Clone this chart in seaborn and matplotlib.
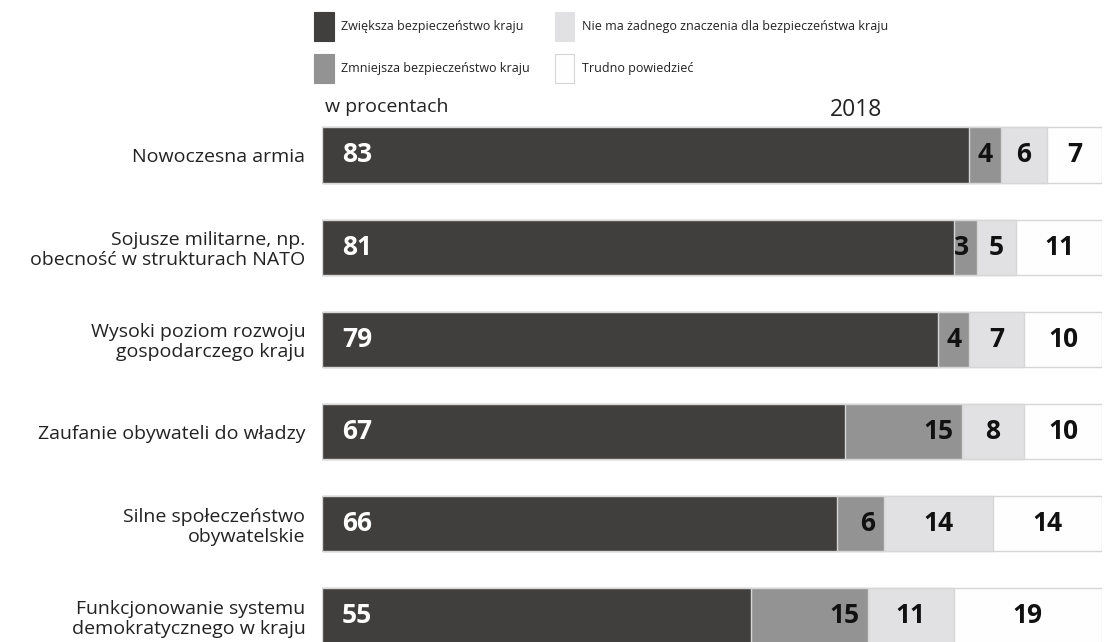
import matplotlib
matplotlib.use("Agg")
import matplotlib.pyplot as plt
import seaborn as sns
import pandas as pd
import numpy as np
from matplotlib.patches import Patch

categories = [
    "Nowoczesna armia",
    "Sojusze militarne, np.\nobecność w strukturach NATO",
    "Wysoki poziom rozwoju\ngospodarczego kraju",
    "Zaufanie obywateli do władzy",
    "Silne społeczeństwo\nobywatelskie",
    "Funkcjonowanie systemu\ndemokratycznego w kraju",
]
zwieksza = [83, 81, 79, 67, 66, 55]
zmniejsza = [4, 3, 4, 15, 6, 15]
bez_znaczenia = [6, 5, 7, 8, 14, 11]
trudno = [7, 11, 10, 10, 14, 19]

series_names = [
    "Zwiększa bezpieczeństwo kraju",
    "Zmniejsza bezpieczeństwo kraju",
    "Nie ma żadnego znaczenia dla bezpieczeństwa kraju",
    "Trudno powiedzieć",
]
series = [zwieksza, zmniejsza, bez_znaczenia, trudno]
colors = ["#413f3d", "#939393", "#e1e0e2", "#fefefe"]
edge = "#d6d6d6"

sns.set_theme(style="white")
plt.rcParams["font.family"] = ["Open Sans", "DejaVu Sans"]

fig = plt.figure(figsize=(11.11, 6.42), dpi=100)
ax = fig.add_axes([322 / 1111, 0.0, 780 / 1111, 519.3 / 642])

vals = np.array(series, dtype=float)
cums = np.cumsum(vals, axis=0)
df = pd.DataFrame({"cat": categories})
for i in range(3, -1, -1):
    df["v"] = cums[i]
    sns.barplot(data=df, x="v", y="cat", orient="h", color=colors[i],
                saturation=1, width=0.6, edgecolor=edge, linewidth=1.0, ax=ax)

ax.set_xlim(0, 100)
ax.set_ylim(5.282, -0.35)
ax.set_xlabel("")
ax.set_ylabel("")
ax.set_xticks([])
for s in ax.spines.values():
    s.set_visible(False)
ax.tick_params(axis="y", length=0, pad=12)
ax.set_yticks(range(len(categories)))
ax.set_yticklabels(categories, fontsize=14, color="#222222", linespacing=1.15)

px = 100 / 780.0  # data units per pixel
for r in range(len(categories)):
    starts = cums[:, r] - vals[:, r]
    ends = cums[:, r]
    ax.text(starts[0] + 20 * px, r, f"{int(vals[0, r])}", ha="left", va="center",
            color="white", fontsize=19, fontweight="bold")
    ax.text(ends[1] - 8 * px, r, f"{int(vals[1, r])}", ha="right", va="center",
            color="#111111", fontsize=19, fontweight="bold")
    for k in (2, 3):
        ax.text((starts[k] + ends[k]) / 2, r, f"{int(vals[k, r])}", ha="center",
                va="center", color="#111111", fontsize=19, fontweight="bold")

handles = [Patch(facecolor=c, edgecolor=(edge if i == 3 else c), linewidth=0.8)
           for i, c in enumerate(colors)]
fig.legend(handles, series_names, ncol=2, loc="upper left",
           bbox_to_anchor=(303 / 1111, 1 - 1 / 642), frameon=False,
           fontsize=9, handlelength=1.55, handleheight=3.2, handletextpad=0.6,
           columnspacing=2.0, labelspacing=1.0, labelcolor="#222222")

fig.text(325 / 1111, 1 - 107 / 642, "w procentach", fontsize=14,
         color="#222222", ha="left", va="center")
fig.text(856 / 1111, 1 - 110 / 642, "2018", fontsize=16.5,
         color="#222222", ha="center", va="center")

fig.savefig("out.png", dpi=100)
